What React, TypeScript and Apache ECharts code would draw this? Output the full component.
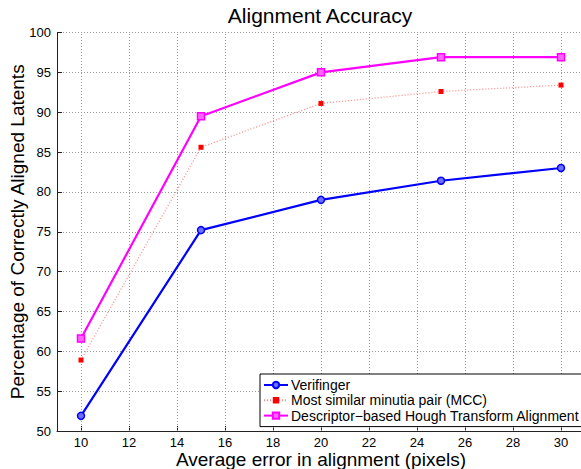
import React, { useEffect, useRef } from "react";
import * as echarts from "echarts";

const xValues = [10, 15, 20, 25, 30];
const verifinger = [51.9, 75.2, 79.0, 81.4, 83.0];
const mcc = [58.9, 85.6, 91.1, 92.6, 93.4];
const descriptor = [61.6, 89.5, 95.0, 96.9, 96.9];
const xTicks = [10, 12, 14, 16, 18, 20, 22, 24, 26, 28, 30];

const FONT = "Liberation Sans, Arial, Helvetica, sans-serif";

export default function App() {
  const ref = useRef<HTMLDivElement>(null);
  useEffect(() => {
    if (!ref.current) return;
    const chart = echarts.init(ref.current, undefined, { renderer: "svg" });
    const pair = (ys: number[]) => xValues.map((x, i) => [x, ys[i]]);
    const gridStyle = { color: "#9a9a9a", width: 1, type: [1, 2] as any };
    chart.setOption({
      animation: false,
      backgroundColor: "#fff",
      textStyle: { fontFamily: FONT },
      title: {
        text: "Alignment Accuracy",
        left: 315,
        textAlign: "center",
        top: 0,
        textStyle: { fontSize: 21, fontWeight: "normal", color: "#000", fontFamily: FONT },
      },
      grid: { left: 57, right: -4, top: 32.5, bottom: 38, containLabel: false, outerBoundsMode: "none" },
      legend: {
        left: 260,
        top: 374,
        orient: "vertical",
        padding: [4, 3, 4, 3],
        itemGap: 1.3,
        itemWidth: 24,
        itemHeight: 8,
        backgroundColor: "#fff",
        borderColor: "#000",
        borderWidth: 1,
        borderRadius: 0,
        textStyle: { fontSize: 14, color: "#000", fontFamily: FONT, padding: [0, 0, 0, -2] },
        data: [
          "Verifinger",
          "Most similar minutia pair (MCC)",
          "Descriptor\u2212based Hough Transform Alignment",
        ],
      },
      xAxis: {
        type: "value",
        min: 9,
        max: 31,
        interval: 1,
        name: "Average error in alignment (pixels)",
        nameLocation: "middle",
        nameGap: 19,
        nameMoveOverlap: false,
        nameTextStyle: { fontSize: 19, color: "#000", fontFamily: FONT, lineHeight: 19 },
        axisLine: { show: true, onZero: false, lineStyle: { color: "#222", width: 1 } },
        axisTick: { show: true, inside: true, length: 5, customValues: xTicks, lineStyle: { color: "#222" } },
        axisLabel: { customValues: xTicks, fontSize: 13, lineHeight: 13, color: "#000", margin: 5, fontFamily: FONT },
        splitLine: { show: false },
      },
      yAxis: {
        type: "value",
        min: 50,
        max: 100,
        interval: 5,
        name: "Percentage of Correctly Aligned Latents",
        nameLocation: "middle",
        nameGap: 30,
        nameMoveOverlap: false,
        nameTextStyle: { fontSize: 19, color: "#000", fontFamily: FONT },
        axisLine: { show: true, lineStyle: { color: "#222", width: 1 } },
        axisTick: { show: true, inside: true, length: 5, lineStyle: { color: "#222" } },
        axisLabel: { fontSize: 13, color: "#000", margin: 6, fontFamily: FONT },
        splitLine: { show: true, lineStyle: gridStyle },
      },
      series: [
        {
          name: "Verifinger",
          type: "line",
          data: pair(verifinger),
          symbol: "circle",
          symbolSize: 7,
          showAllSymbol: true,
          lineStyle: { color: "#0000ff", width: 2.2 },
          itemStyle: { color: "#6f6fff", borderColor: "#0000ff", borderWidth: 1.5 },
          z: 4,
          markLine: {
            silent: true,
            symbol: "none",
            label: { show: false },
            lineStyle: gridStyle,
            z: 1,
            data: xTicks.map((v) => ({ xAxis: v })),
          },
        },
        {
          name: "Most similar minutia pair (MCC)",
          type: "line",
          data: pair(mcc),
          symbol: "rect",
          symbolSize: 5,
          lineStyle: { color: "rgba(255,60,60,0.6)", width: 1.3, type: [1, 2] },
          itemStyle: { color: "#ff0000" },
          z: 3,
        },
        {
          name: "Descriptor\u2212based Hough Transform Alignment",
          type: "line",
          data: pair(descriptor),
          symbol: "rect",
          symbolSize: 7,
          lineStyle: { color: "#ff00ff", width: 2.2 },
          itemStyle: { color: "#ff66ff", borderColor: "#ff00ff", borderWidth: 1.5 },
          z: 4,
        },
      ],
    });
    return () => chart.dispose();
  }, []);
  return <div ref={ref} style={{ width: 581, height: 469, position: "absolute", left: 0, top: 0 }} />;
}
